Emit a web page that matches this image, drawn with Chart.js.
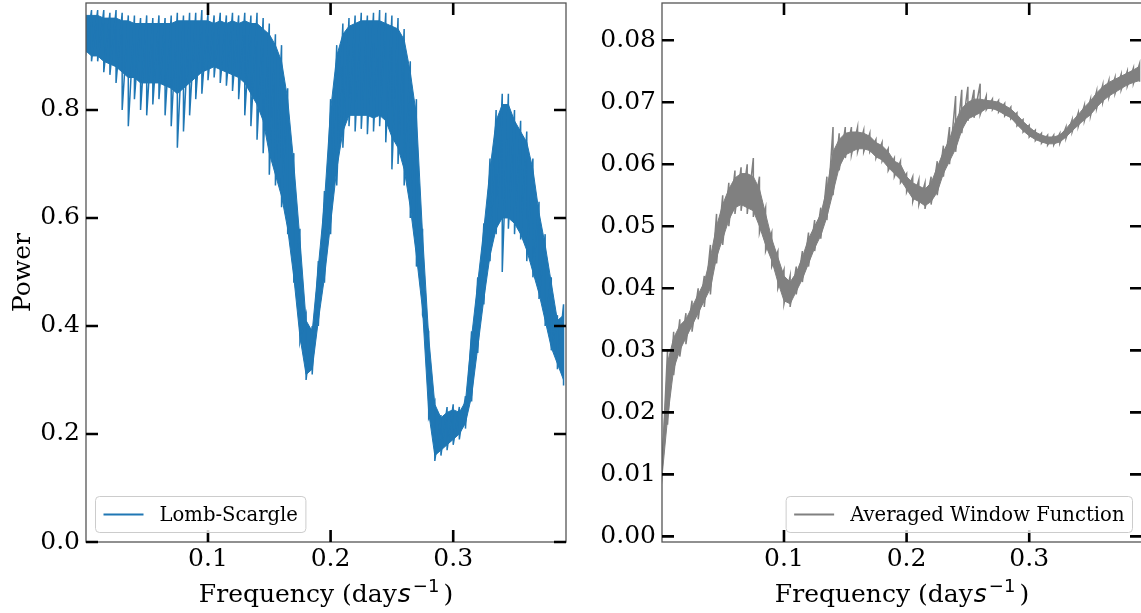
<!DOCTYPE html>
<html>
<head>
<meta charset="utf-8">
<script src="https://cdn.jsdelivr.net/npm/chart.js@4.4.1/dist/chart.umd.min.js"></script>
<style>
  html, body { margin: 0; padding: 0; background: #fff; overflow: hidden; }
  #wrap { position: relative; width: 1141px; height: 613px; overflow: hidden; }
  canvas { position: absolute; top: 0; }
  #lsChart { left: 0; }
  #wfChart { left: 580px; }
</style>
</head>
<body>
<div id="wrap">
  <canvas id="lsChart" width="580" height="613"></canvas>
  <canvas id="wfChart" width="580" height="613"></canvas>
</div>
<script>
// Frequency grid (days^-1) the curves were read at
const freq = [
  0.000, 0.005, 0.010, 0.015, 0.020, 0.025, 0.030, 0.035, 0.040, 0.045,
  0.050, 0.055, 0.060, 0.065, 0.070, 0.075, 0.080, 0.085, 0.090, 0.095,
  0.100, 0.105, 0.110, 0.115, 0.120, 0.125, 0.130, 0.135, 0.140, 0.145,
  0.150, 0.155, 0.160, 0.165, 0.170, 0.175, 0.180, 0.185, 0.190, 0.195,
  0.200, 0.205, 0.210, 0.215, 0.220, 0.225, 0.230, 0.235, 0.240, 0.245,
  0.250, 0.255, 0.260, 0.265, 0.270, 0.275, 0.280, 0.285, 0.290, 0.295,
  0.300, 0.305, 0.310, 0.315, 0.320, 0.325, 0.330, 0.335, 0.340, 0.345,
  0.350, 0.355, 0.360, 0.365, 0.370, 0.375, 0.380, 0.385, 0.390
];

// Lomb-Scargle power: extreme top / bottom of the noise (spike tips)
const lsHigh = [
  0.99, 0.985, 0.985, 0.985, 0.98, 0.985, 0.98, 0.975, 0.975, 0.97,
  0.975, 0.97, 0.975, 0.97, 0.975, 0.98, 0.975, 0.98, 0.98, 0.985,
  0.98, 0.975, 0.98, 0.975, 0.98, 0.975, 0.98, 0.975, 0.98, 0.97,
  0.96, 0.94, 0.92, 0.84, 0.72, 0.58, 0.42, 0.40, 0.52, 0.65,
  0.82, 0.92, 0.96, 0.97, 0.975, 0.98, 0.975, 0.98, 0.985, 0.98,
  0.975, 0.97, 0.95, 0.89, 0.82, 0.58, 0.39, 0.26, 0.235, 0.25,
  0.255, 0.25, 0.27, 0.39, 0.49, 0.59, 0.71, 0.80, 0.83, 0.83,
  0.80, 0.78, 0.76, 0.71, 0.63, 0.57, 0.49, 0.42, 0.44
];
const lsLow = [
  0.90, 0.89, 0.89, 0.87, 0.865, 0.85, 0.80, 0.77, 0.82, 0.80,
  0.79, 0.81, 0.82, 0.79, 0.77, 0.73, 0.76, 0.79, 0.82, 0.83,
  0.855, 0.86, 0.85, 0.845, 0.835, 0.82, 0.79, 0.77, 0.745, 0.72,
  0.68, 0.66, 0.62, 0.57, 0.48, 0.37, 0.30, 0.31, 0.40, 0.48,
  0.57, 0.66, 0.73, 0.77, 0.76, 0.765, 0.755, 0.76, 0.77, 0.74,
  0.69, 0.70, 0.66, 0.60, 0.51, 0.42, 0.23, 0.15, 0.16, 0.17,
  0.18, 0.19, 0.21, 0.26, 0.35, 0.44, 0.52, 0.57, 0.50, 0.58,
  0.57, 0.56, 0.52, 0.49, 0.45, 0.40, 0.355, 0.32, 0.29
];
// Lomb-Scargle power: edges of the solid part of the band
const lsCoreHigh = [
  0.975, 0.975, 0.975, 0.97, 0.97, 0.97, 0.965, 0.965, 0.96, 0.96,
  0.96, 0.96, 0.96, 0.96, 0.96, 0.965, 0.965, 0.965, 0.965, 0.965,
  0.965, 0.96, 0.965, 0.96, 0.965, 0.96, 0.965, 0.96, 0.96, 0.95,
  0.94, 0.92, 0.89, 0.82, 0.70, 0.56, 0.41, 0.39, 0.51, 0.63,
  0.80, 0.90, 0.94, 0.955, 0.96, 0.965, 0.965, 0.965, 0.965, 0.96,
  0.955, 0.95, 0.93, 0.87, 0.79, 0.57, 0.38, 0.255, 0.23, 0.24,
  0.245, 0.24, 0.26, 0.38, 0.48, 0.58, 0.69, 0.78, 0.81, 0.81,
  0.78, 0.76, 0.74, 0.69, 0.61, 0.55, 0.48, 0.41, 0.42
];
const lsCoreLow = [
  0.91, 0.90, 0.90, 0.89, 0.885, 0.88, 0.87, 0.86, 0.86, 0.85,
  0.85, 0.85, 0.85, 0.845, 0.84, 0.83, 0.84, 0.85, 0.86, 0.87,
  0.875, 0.88, 0.875, 0.87, 0.865, 0.86, 0.85, 0.83, 0.81, 0.78,
  0.72, 0.68, 0.64, 0.58, 0.49, 0.38, 0.31, 0.32, 0.41, 0.49,
  0.59, 0.69, 0.76, 0.79, 0.79, 0.79, 0.79, 0.785, 0.79, 0.78,
  0.75, 0.73, 0.69, 0.62, 0.53, 0.43, 0.24, 0.16, 0.17, 0.18,
  0.19, 0.20, 0.22, 0.27, 0.36, 0.45, 0.53, 0.58, 0.60, 0.60,
  0.59, 0.57, 0.54, 0.50, 0.46, 0.41, 0.36, 0.33, 0.30
];

// Averaged window function: extreme top / bottom of the noise
const wfHigh = [
  0.010, 0.030, 0.033, 0.035, 0.036, 0.038, 0.040, 0.042, 0.047, 0.052,
  0.055, 0.057, 0.059, 0.0595, 0.060, 0.061, 0.058, 0.053, 0.049, 0.046,
  0.043, 0.042, 0.0435, 0.046, 0.049, 0.051, 0.053, 0.058, 0.066, 0.065,
  0.066, 0.066, 0.066, 0.0655, 0.065, 0.064, 0.0635, 0.0625, 0.061, 0.0605,
  0.0585, 0.058, 0.0575, 0.057, 0.058, 0.0605, 0.063, 0.066, 0.071, 0.072,
  0.0725, 0.072, 0.073, 0.071, 0.0705, 0.0703, 0.0698, 0.0692, 0.0683, 0.0672,
  0.0663, 0.0655, 0.065, 0.0647, 0.0647, 0.065, 0.066, 0.0672, 0.0683, 0.0695,
  0.0705, 0.0718, 0.0728, 0.0735, 0.074, 0.0745, 0.075, 0.0755, 0.0762
];
const wfLow = [
  0.0085, 0.018, 0.026, 0.029, 0.031, 0.033, 0.035, 0.037, 0.039, 0.044,
  0.047, 0.050, 0.052, 0.0525, 0.052, 0.0515, 0.049, 0.046, 0.0435, 0.040,
  0.0375, 0.037, 0.039, 0.041, 0.0435, 0.046, 0.048, 0.051, 0.055, 0.059,
  0.061, 0.0615, 0.062, 0.062, 0.062, 0.061, 0.0605, 0.059, 0.058, 0.057,
  0.0555, 0.054, 0.0535, 0.0528, 0.0535, 0.055, 0.058, 0.060, 0.062, 0.065,
  0.067, 0.0675, 0.068, 0.0688, 0.0688, 0.0684, 0.0678, 0.0673, 0.0662, 0.0652,
  0.0644, 0.0638, 0.0634, 0.0631, 0.0631, 0.0634, 0.0642, 0.0652, 0.0661, 0.067,
  0.0678, 0.069, 0.070, 0.0708, 0.0714, 0.072, 0.0726, 0.073, 0.0733
];
// Averaged window function: edges of the solid part of the band
const wfCoreHigh = [
  0.010, 0.028, 0.032, 0.034, 0.035, 0.037, 0.039, 0.041, 0.045, 0.050,
  0.0535, 0.056, 0.0578, 0.0585, 0.0585, 0.058, 0.056, 0.052, 0.048, 0.045,
  0.042, 0.041, 0.0425, 0.045, 0.048, 0.050, 0.052, 0.056, 0.062, 0.064,
  0.065, 0.0652, 0.0652, 0.065, 0.0645, 0.0635, 0.063, 0.062, 0.0605, 0.060,
  0.058, 0.057, 0.0565, 0.056, 0.057, 0.0595, 0.062, 0.064, 0.067, 0.069,
  0.070, 0.0705, 0.0705, 0.0703, 0.0702, 0.0700, 0.0695, 0.0689, 0.068, 0.0669,
  0.066, 0.0652, 0.0647, 0.0644, 0.0644, 0.0647, 0.0657, 0.0669, 0.068, 0.0692,
  0.0702, 0.0715, 0.0725, 0.0732, 0.0737, 0.0742, 0.0747, 0.0752, 0.0758
];
const wfCoreLow = [
  0.0085, 0.019, 0.027, 0.030, 0.032, 0.034, 0.036, 0.038, 0.040, 0.045,
  0.048, 0.051, 0.053, 0.0535, 0.053, 0.0525, 0.050, 0.047, 0.0445, 0.041,
  0.038, 0.0375, 0.0395, 0.0415, 0.044, 0.0465, 0.0485, 0.0515, 0.0555, 0.0595,
  0.0615, 0.062, 0.0625, 0.0625, 0.0622, 0.0612, 0.0607, 0.0595, 0.0585, 0.0575,
  0.056, 0.0545, 0.054, 0.0533, 0.054, 0.0555, 0.0585, 0.0605, 0.0625, 0.0655,
  0.0673, 0.0678, 0.0683, 0.069, 0.069, 0.0686, 0.068, 0.0675, 0.0664, 0.0654,
  0.0646, 0.064, 0.0636, 0.0633, 0.0633, 0.0636, 0.0644, 0.0654, 0.0663, 0.0672,
  0.068, 0.0692, 0.0702, 0.071, 0.0716, 0.0722, 0.0728, 0.0732, 0.0735
];

// Tick labels
const freqTicks = [0.1, 0.2, 0.3];
const lsPowerTicks = [0.0, 0.2, 0.4, 0.6, 0.8];
const wfPowerTicks = [0.00, 0.01, 0.02, 0.03, 0.04, 0.05, 0.06, 0.07, 0.08];

const SERIF = '"DejaVu Serif", serif';

// Noisy trace: run up and down between the spike tips at every frequency
function zigzag(hi, lo) {
  const pts = [];
  freq.forEach((f, i) => {
    pts.push({ x: f, y: hi[i] });
    pts.push({ x: f, y: lo[i] });
  });
  return pts;
}
function curve(vals) {
  return freq.map((f, i) => ({ x: f, y: vals[i] }));
}

// Frame, inward ticks, axis titles and boxed legend (matplotlib look)
const mplPlugin = {
  id: 'mpl',
  afterDraw(chart, args, opts) {
    const { ctx, chartArea: a, scales } = chart;
    ctx.save();

    // spines
    ctx.strokeStyle = '#555';
    ctx.lineWidth = 1.3;
    ctx.strokeRect(a.left, a.top, a.right - a.left, a.bottom - a.top);

    // inward ticks on all four sides
    const L = 12;
    ctx.strokeStyle = '#000';
    ctx.lineWidth = 2.6;
    ctx.beginPath();
    scales.x.ticks.forEach(t => {
      const px = scales.x.getPixelForValue(t.value);
      ctx.moveTo(px, a.bottom); ctx.lineTo(px, a.bottom - L);
      ctx.moveTo(px, a.top); ctx.lineTo(px, a.top + L);
    });
    scales.y.ticks.forEach(t => {
      const py = scales.y.getPixelForValue(t.value);
      ctx.moveTo(a.left, py); ctx.lineTo(a.left + L, py);
      ctx.moveTo(a.right, py); ctx.lineTo(a.right - L, py);
    });
    ctx.stroke();

    // x title: Frequency (day$s^{-1}$)
    const runs = [
      { t: 'Frequency (day', f: '25px ' + SERIF, dy: 0, after: 1 },
      { t: 's', f: 'italic 25px "DejaVu Sans"', dy: 0, after: 2 },
      { t: '\u22121', f: '18px "DejaVu Sans"', dy: -10, after: 4 },
      { t: ')', f: '25px ' + SERIF, dy: 0, after: 0 }
    ];
    let total = 0;
    runs.forEach(r => { ctx.font = r.f; r.w = ctx.measureText(r.t).width + r.after; total += r.w; });
    let x = (a.left + a.right) / 2 - total / 2;
    const base = 602;
    ctx.fillStyle = '#000';
    ctx.textAlign = 'left';
    ctx.textBaseline = 'alphabetic';
    runs.forEach(r => { ctx.font = r.f; ctx.fillText(r.t, x, base + r.dy); x += r.w; });

    // y title
    if (opts.yTitle) {
      ctx.save();
      ctx.translate(opts.yTitleX, (a.top + a.bottom) / 2);
      ctx.rotate(-Math.PI / 2);
      ctx.font = '25px ' + SERIF;
      ctx.textAlign = 'center';
      ctx.fillText(opts.yTitle, 0, 0);
      ctx.restore();
    }

    // legend box
    const ds = chart.data.datasets[0];
    ctx.font = '19.6px ' + SERIF;
    const tw = ctx.measureText(ds.label).width;
    const pad = 8, handle = 40, gap = 16, h = 36;
    const w = pad + handle + gap + tw + pad;
    const x0 = opts.legendSide === 'left' ? a.left + 9.5 : a.right - 9.5 - w;
    const y0 = a.bottom - 9.5 - h;
    ctx.beginPath();
    ctx.roundRect(x0, y0, w, h, 4);
    ctx.fillStyle = 'rgba(255,255,255,0.8)';
    ctx.fill();
    ctx.strokeStyle = '#cccccc';
    ctx.lineWidth = 1;
    ctx.stroke();
    ctx.beginPath();
    ctx.moveTo(x0 + pad, y0 + h / 2);
    ctx.lineTo(x0 + pad + handle, y0 + h / 2);
    ctx.strokeStyle = ds.borderColor;
    ctx.lineWidth = 2;
    ctx.stroke();
    ctx.fillStyle = '#000';
    ctx.textBaseline = 'middle';
    ctx.fillText(ds.label, x0 + pad + handle + gap, y0 + h / 2 + 1);

    ctx.restore();
  }
};

function makeChart(id, label, color, hi, lo, coreHi, coreLo, yMin, yMax, yTicks, digits, yWidth, padRight, mplOpts) {
  return new Chart(document.getElementById(id), {
    type: 'line',
    data: {
      datasets: [
        { // noisy trace (legend entry)
          label: label,
          data: zigzag(hi, lo),
          borderColor: color,
          borderWidth: 1.5,
          pointRadius: 0,
          tension: 0,
          fill: false,
          order: 0
        },
        { // solid body of the band, top edge
          label: 'core top',
          data: curve(coreHi),
          borderColor: color,
          backgroundColor: color,
          borderWidth: 1,
          pointRadius: 0,
          tension: 0,
          fill: '+1',
          order: 1
        },
        { // solid body of the band, bottom edge
          label: 'core bottom',
          data: curve(coreLo),
          borderColor: color,
          borderWidth: 1,
          pointRadius: 0,
          tension: 0,
          fill: false,
          order: 1
        }
      ]
    },
    options: {
      responsive: false,
      animation: false,
      events: [],
      layout: { padding: { top: 3, right: padRight, bottom: 0, left: 0 } },
      plugins: { legend: { display: false }, tooltip: { enabled: false }, mpl: mplOpts },
      scales: {
        x: {
          type: 'linear',
          min: 0.0005,
          max: 0.392,
          grid: { display: false, drawTicks: false },
          border: { display: false },
          afterBuildTicks: s => { s.ticks = freqTicks.map(v => ({ value: v })); },
          afterFit: s => { s.height = 71; s.paddingLeft = 0; s.paddingRight = 0; },
          ticks: {
            padding: 2,
            color: '#000',
            font: { family: SERIF, size: 25 },
            callback: v => v.toFixed(1)
          }
        },
        y: {
          min: yMin,
          max: yMax,
          grid: { display: false, drawTicks: false },
          border: { display: false },
          afterBuildTicks: s => { s.ticks = yTicks.map(v => ({ value: v })); },
          afterFit: s => { s.width = yWidth; s.paddingTop = 0; s.paddingBottom = 0; },
          ticks: {
            padding: 6,
            color: '#000',
            font: { family: SERIF, size: 25 },
            callback: v => v.toFixed(digits)
          }
        }
      }
    },
    plugins: [mplPlugin]
  });
}

makeChart('lsChart', 'Lomb-Scargle', '#1f77b4', lsHigh, lsLow, lsCoreHigh, lsCoreLow,
  0, 0.998, lsPowerTicks, 1, 86, 14,
  { legendSide: 'left', yTitle: 'Power', yTitleX: 30 });

makeChart('wfChart', 'Averaged Window Function', '#808080', wfHigh, wfLow, wfCoreHigh, wfCoreLow,
  -0.0009, 0.086, wfPowerTicks, 2, 82, 18,
  { legendSide: 'right' });
</script>
</body>
</html>
